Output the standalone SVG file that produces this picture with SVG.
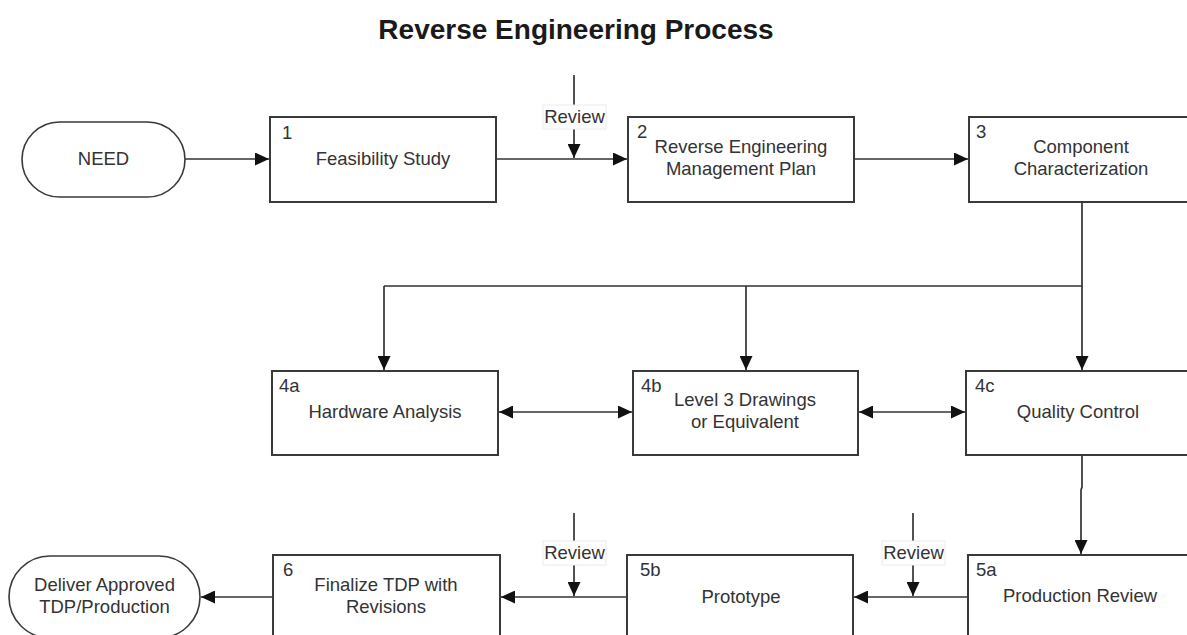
<svg xmlns="http://www.w3.org/2000/svg" width="1187" height="635" viewBox="0 0 1187 635">
<style>
.box{fill:#fff;stroke:#3a3a3a;stroke-width:2}
.term{fill:#fff;stroke:#3a3a3a;stroke-width:1.6}
.t{font-family:"Liberation Sans",Arial,sans-serif;font-size:18.5px;fill:#333}
.c{text-anchor:middle}
.title{font-family:"Liberation Sans",Arial,sans-serif;font-size:28px;font-weight:bold;fill:#1a1a1a;text-anchor:middle}
.ln{fill:none;stroke:#333;stroke-width:1.7}
.arr{marker-end:url(#ah)}
.dbl{marker-end:url(#ah);marker-start:url(#ahs)}
.lbl{fill:#fff;stroke:#ececec;stroke-width:1}
</style>
<defs>
<marker id="ah" markerUnits="userSpaceOnUse" markerWidth="15" markerHeight="13" refX="14" refY="6.5" orient="auto"><path d="M0,0 L14,6.5 L0,13 z" fill="#111"/></marker>
<marker id="ahs" markerUnits="userSpaceOnUse" markerWidth="15" markerHeight="13" refX="14" refY="6.5" orient="auto-start-reverse"><path d="M0,0 L14,6.5 L0,13 z" fill="#111"/></marker>
</defs>
<rect width="1187" height="635" fill="#fff"/>
<text class="title" x="576" y="39">Reverse Engineering Process</text>

<g id="connectors">
<path class="ln arr" d="M185,159 H269"/>
<path class="ln arr" d="M496,159 H627"/>
<path class="ln arr" d="M574,75 V158"/>
<path class="ln arr" d="M854,159 H968"/>
<path class="ln" d="M1082,202 V286 H384"/>
<path class="ln arr" d="M384,286 V370"/>
<path class="ln arr" d="M746,286 V370"/>
<path class="ln arr" d="M1082,286 V370"/>
<path class="ln dbl" d="M499,412 H632"/>
<path class="ln dbl" d="M859,412 H965"/>
<path class="ln arr" d="M1082,455 V487 L1081,490 V554"/>
<path class="ln arr" d="M967,597 H854"/>
<path class="ln arr" d="M913,513 V596"/>
<path class="ln arr" d="M626,597 H501"/>
<path class="ln arr" d="M574,513 V596"/>
<path class="ln arr" d="M272,597 H201"/>
<rect class="lbl" x="543" y="105" width="63" height="24"/>
<text class="t c" x="574.5" y="123">Review</text>
<rect class="lbl" x="543" y="541" width="63" height="24"/>
<text class="t c" x="574.5" y="559">Review</text>
<rect class="lbl" x="882" y="541" width="63" height="24"/>
<text class="t c" x="913.5" y="559">Review</text>
</g>

<g id="need">
<rect class="term" x="22" y="122" width="163" height="75" rx="37.5"/>
<text class="t c" x="103.5" y="165">NEED</text>
</g>
<g id="n1">
<rect class="box" x="270" y="117" width="226" height="85"/>
<text class="t" x="282" y="139">1</text>
<text class="t c" x="383" y="165">Feasibility Study</text>
</g>
<g id="n2">
<rect class="box" x="628" y="117" width="226" height="85"/>
<text class="t" x="637" y="138">2</text>
<text class="t c" x="741" y="153">Reverse Engineering</text>
<text class="t c" x="741" y="175">Management Plan</text>
</g>
<g id="n3">
<rect class="box" x="969" y="117" width="226" height="85"/>
<text class="t" x="976" y="138">3</text>
<text class="t c" x="1081" y="153">Component</text>
<text class="t c" x="1081" y="175">Characterization</text>
</g>
<g id="n4a">
<rect class="box" x="272" y="371" width="226" height="84"/>
<text class="t" x="279" y="392">4a</text>
<text class="t c" x="385" y="418">Hardware Analysis</text>
</g>
<g id="n4b">
<rect class="box" x="633" y="371" width="225" height="84"/>
<text class="t" x="641" y="392">4b</text>
<text class="t c" x="745" y="406">Level 3 Drawings</text>
<text class="t c" x="745" y="428">or Equivalent</text>
</g>
<g id="n4c">
<rect class="box" x="966" y="371" width="226" height="84"/>
<text class="t" x="975" y="392">4c</text>
<text class="t c" x="1078" y="418">Quality Control</text>
</g>
<g id="n5a">
<rect class="box" x="968" y="555" width="226" height="85"/>
<text class="t" x="976" y="576">5a</text>
<text class="t c" x="1080" y="602">Production Review</text>
</g>
<g id="n5b">
<rect class="box" x="627" y="555" width="226" height="85"/>
<text class="t" x="640" y="576">5b</text>
<text class="t c" x="741" y="603">Prototype</text>
</g>
<g id="n6">
<rect class="box" x="273" y="555" width="227" height="85"/>
<text class="t" x="283" y="576">6</text>
<text class="t c" x="386" y="591">Finalize TDP with</text>
<text class="t c" x="386" y="613">Revisions</text>
</g>
<g id="deliver">
<rect class="term" x="9" y="556" width="191" height="82" rx="41"/>
<text class="t c" x="104.5" y="591">Deliver Approved</text>
<text class="t c" x="104.5" y="613">TDP/Production</text>
</g>
</svg>
